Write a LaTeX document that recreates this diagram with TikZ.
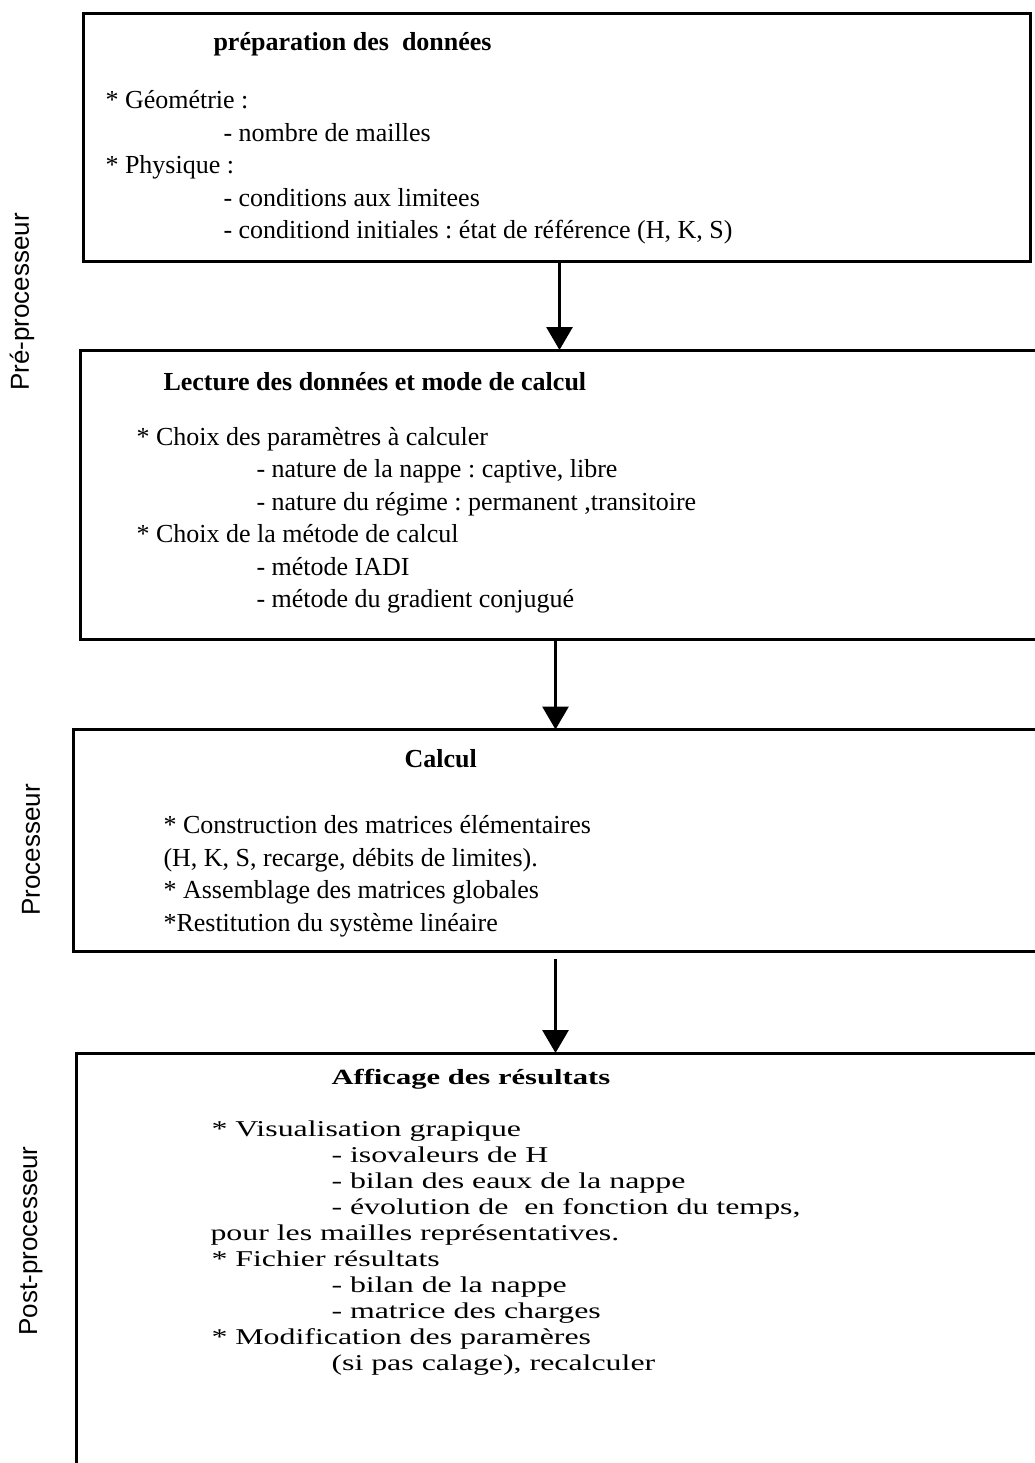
\documentclass[tikz,border=0pt]{standalone}
\usepackage{fontspec}
\setmainfont{Liberation Serif}
\newfontfamily\sidefont{Liberation Sans}
\newfontfamily\widefont[FakeStretch=1.41]{Liberation Serif}
\usetikzlibrary{arrows.meta}
\frenchspacing

\tikzset{
  box/.style={draw, rectangle, line width=3pt, inner sep=0pt, outer sep=0pt, anchor=north west},
  txt/.style={anchor=base west, inner sep=0pt, font=\fontsize{26}{30}\selectfont},
  ttl/.style={txt, font=\fontsize{26}{30}\selectfont\bfseries},
  wtxt/.style={anchor=base west, inner sep=0pt, font=\widefont\fontsize{22.6}{26}\selectfont},
  wttl/.style={wtxt, font=\widefont\fontsize{21.7}{26}\selectfont\bfseries},
  sidelabel/.style={rotate=90, inner sep=0pt, font=\sidefont\fontsize{26}{30}\selectfont}
}

\begin{document}
\begin{tikzpicture}[x=1pt, y=-1pt, >={Triangle[width=26pt,length=23pt]}, line width=3pt]
    \useasboundingbox (0,0) rectangle (1035,1463);

    % boxes
    \node[box, minimum width=946.5pt, minimum height=248pt] (prep) at (83.5,13.5) {};
    \node[box, minimum width=1000pt, minimum height=289pt] (lect) at (80,350) {};
    \node[box, minimum width=1010pt, minimum height=222pt] (calc) at (73,729.5) {};
    \node[box, minimum width=1010pt, minimum height=450pt] (aff) at (76.5,1053) {};

    % side labels
    \node[sidelabel] (pre) at (22,302) {Pré-processeur};
    \node[sidelabel] (pro) at (31,850) {Processeur};
    \node[sidelabel] (post) at (31,1241) {Post-processeur};

    % preparation
    \node[ttl] (prepT) at (212,51) {préparation des\ \ données};
    \node[txt] (geo) at (104,109) {* Géométrie :};
    \node[txt] (mail) at (222,141.5) {- nombre de mailles};
    \node[txt] (phys) at (104,174) {* Physique :};
    \node[txt] (lim) at (222,206.5) {- conditions aux limitees};
    \node[txt] (init) at (222,239) {- conditiond initiales : état de référence (H, K, S)};

    % lecture
    \node[ttl] (lectT) at (162,390) {Lecture des données et mode de calcul};
    \node[txt] (choix1) at (135,445) {* Choix des paramètres à calculer};
    \node[txt] (nappe) at (255,477.5) {- nature de la nappe : captive, libre};
    \node[txt] (regime) at (255,510) {- nature du régime : permanent ,transitoire};
    \node[txt] (choix2) at (135,542.5) {* Choix de la métode de calcul};
    \node[txt] (iadi) at (255,575) {- métode IADI};
    \node[txt] (grad) at (255,607.5) {- métode du gradient conjugué};

    % calcul
    \node[ttl] (calcT) at (403,767) {Calcul};
    \node[txt] (constr) at (162,833) {* Construction des matrices élémentaires};
    \node[txt] (hks) at (162,866) {(H, K, S, recarge, débits de limites).};
    \node[txt] (assem) at (162,898) {* Assemblage des matrices globales};
    \node[txt] (resti) at (162,931) {*Restitution du système linéaire};

    % affichage
    \node[wttl] (affT) at (330,1084) {Afficage des résultats};
    \node[wtxt] (visu) at (210,1136.5) {* Visualisation grapique};
    \node[wtxt] (iso) at (330,1162.5) {- isovaleurs de H};
    \node[wtxt] (bilan1) at (330,1188.5) {- bilan des eaux de la nappe};
    \node[wtxt] (evol) at (330,1214.5) {- évolution de\ \ en fonction du temps,};
    \node[wtxt] (pour) at (209,1240.5) {pour les mailles représentatives.};
    \node[wtxt] (fich) at (210,1266.5) {* Fichier résultats};
    \node[wtxt] (bilan2) at (330,1292.5) {- bilan de la nappe};
    \node[wtxt] (matr) at (330,1318.5) {- matrice des charges};
    \node[wtxt] (modif) at (210,1344.5) {* Modification des paramères};
    \node[wtxt] (cala) at (330,1370.5) {(si pas calage), recalculer};

    % arrows
    \coordinate (c1) at (559.5,0);
    \coordinate (c2) at (555.5,0);
    \draw[->] (c1 |- prep.south) -- (c1 |- lect.north);
    \draw[->] (c2 |- lect.south) -- (c2 |- calc.north);
    \draw[->, shorten <=7pt] (c2 |- calc.south) -- (c2 |- aff.north);
\end{tikzpicture}
\end{document}
